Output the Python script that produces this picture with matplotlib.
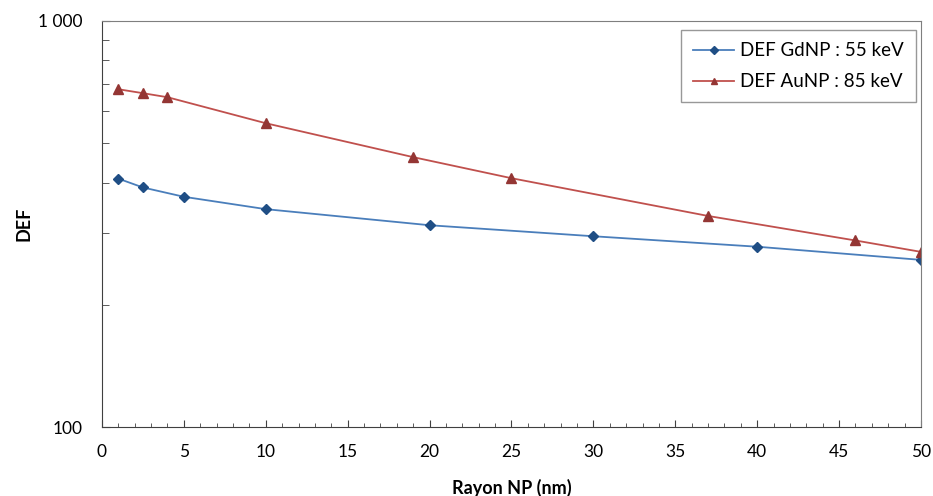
import matplotlib
matplotlib.use("Agg")
import matplotlib.pyplot as plt
from matplotlib.ticker import FixedLocator, NullFormatter, FixedFormatter, MultipleLocator

plt.rcParams['font.family'] = ['Lato', 'DejaVu Sans']

gd_x = [1, 2.5, 5, 10, 20, 30, 40, 50]
gd_y = [409, 389, 369, 344, 314, 295, 278, 258]
au_x = [1, 2.5, 4, 10, 19, 25, 37, 46, 50]
au_y = [679, 664, 649, 560, 462, 410, 331, 288, 270]
gd_label = "DEF GdNP : 55 keV"
au_label = "DEF AuNP : 85 keV"
x_ticks = [0, 5, 10, 15, 20, 25, 30, 35, 40, 45, 50]
y_ticks = [100, 1000]
y_tick_labels = ["100", "1 000"]

fig = plt.figure(figsize=(9.33, 4.96), dpi=100)
ax = fig.add_axes([0.1093, 0.1391, 0.8778, 0.8186])

ax.plot(gd_x, gd_y, color='#4A7EBB', lw=1.3, marker='D', ms=5.5,
        mfc='#1F4E85', mec='#1F4E85', label=gd_label)
ax.plot(au_x, au_y, color='#C0504D', lw=1.3, marker='^', ms=7,
        mfc='#943634', mec='#943634', label=au_label)

ax.set_yscale('log')
ax.set_xlim(0, 50)
ax.set_ylim(100, 1000)
ax.yaxis.set_major_locator(FixedLocator(y_ticks))
ax.yaxis.set_major_formatter(FixedFormatter(y_tick_labels))
ax.yaxis.set_minor_locator(FixedLocator([200, 300, 400, 500, 600, 700, 800, 900]))
ax.yaxis.set_minor_formatter(NullFormatter())
ax.xaxis.set_major_locator(FixedLocator(x_ticks))
ax.xaxis.set_minor_locator(MultipleLocator(1))

ax.tick_params(axis='both', which='both', direction='in', colors='#404040',
               labelcolor='black', labelsize=12.5)
ax.tick_params(axis='y', which='major', length=6, pad=14)
ax.tick_params(axis='y', which='minor', length=5)
ax.tick_params(axis='x', which='major', length=5, pad=12)
ax.tick_params(axis='x', which='minor', length=3)

for s in ['left', 'bottom']:
    ax.spines[s].set_color('#404040')
for s in ['top', 'right']:
    ax.spines[s].set_color('#7f7f7f')

ax.set_xlabel('Rayon NP (nm)', fontsize=13, fontweight='bold', labelpad=14)
ax.set_ylabel('DEF', fontsize=13, fontweight='bold', labelpad=4)

leg = ax.legend(loc='upper right', bbox_to_anchor=(0.994, 0.978), borderaxespad=0,
                fontsize=13.5, frameon=True, fancybox=False, edgecolor='#7f7f7f',
                handlelength=2.2, borderpad=0.65, labelspacing=0.75, handletextpad=0.3)
leg.get_frame().set_linewidth(1.0)
for h in leg.legend_handles:
    h.set_markersize(4.5)

fig.savefig('out.png', dpi=100)
